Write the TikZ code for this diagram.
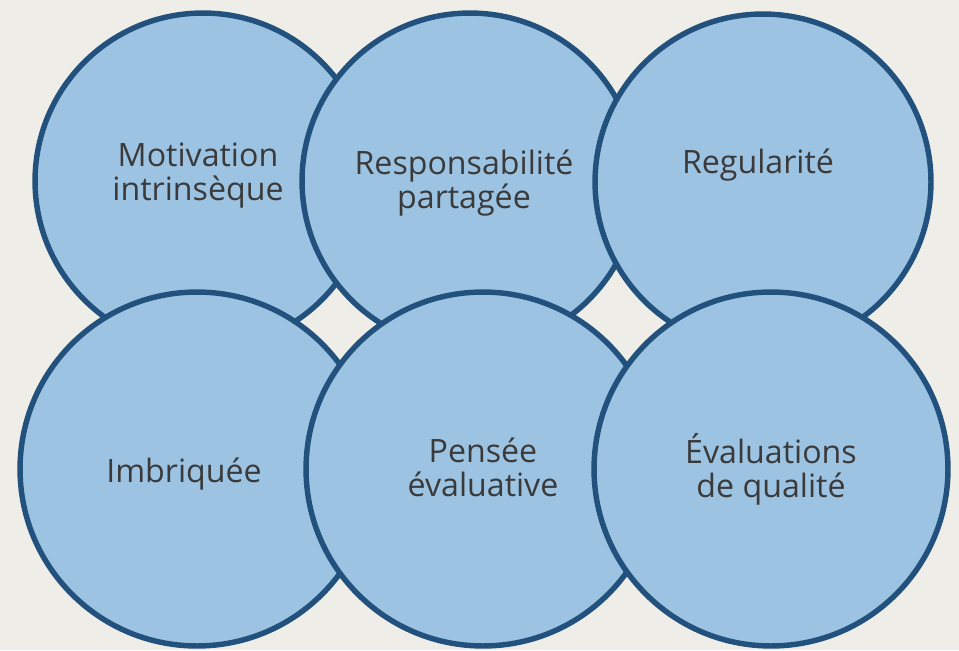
\documentclass[tikz,border=0pt]{standalone}
\usepackage{fontspec}
\setmainfont{Open Sans}
\usepackage{xcolor}
\usepackage{tikz}
\usetikzlibrary{positioning}

\definecolor{bgpaper}{HTML}{EEEDE7}
\definecolor{circfill}{HTML}{9DC3E3}
\definecolor{circedge}{HTML}{22517D}
\definecolor{lbltext}{HTML}{3A3A3A}

\tikzset{
  bubble/.style={circle, draw=circedge, fill=circfill, line width=3.1pt, inner sep=0pt},
  bubbletop/.style={bubble, minimum size=6.72cm},
  bubblebot/.style={bubble, minimum size=7.08cm},
  lbl/.style={text=lbltext, align=center, anchor=base, inner sep=0pt,
    font=\fontsize{18.3}{19}\selectfont}
}

\begin{document}
\begin{tikzpicture}[x=0.02cm, y=-0.02cm]
    % Background
    \fill[bgpaper] (0,0) rectangle (959,650);
    \useasboundingbox (0,0) rectangle (959,650);

    % Top row
    \node[bubbletop] (motiv) at (203,181) {};
    \node[bubbletop] (resp) at (470,181) {};
    \node[bubbletop] (regul) at (763,182) {};

    % Bottom row
    \node[bubblebot] (imbr) at (197,469) {};
    \node[bubblebot] (pense) at (483,469) {};
    \node[bubblebot] (evalq) at (771,469) {};

    % Labels (base = last line)
    \node[lbl] (tmotiv) at (198,200) {Motivation\\intrinsèque};
    \node[lbl] (tresp) at (464,208) {Responsabilité\\partagée};
    \node[lbl] (tregul) at (758,173) {Regularité};
    \node[lbl] (timbr) at (184,482) {Imbriquée};
    \node[lbl] (tpense) at (483,496) {Pensée\\évaluative};
    \node[lbl] (tevalq) at (771,497) {Évaluations\\de qualité};

\end{tikzpicture}
\end{document}
